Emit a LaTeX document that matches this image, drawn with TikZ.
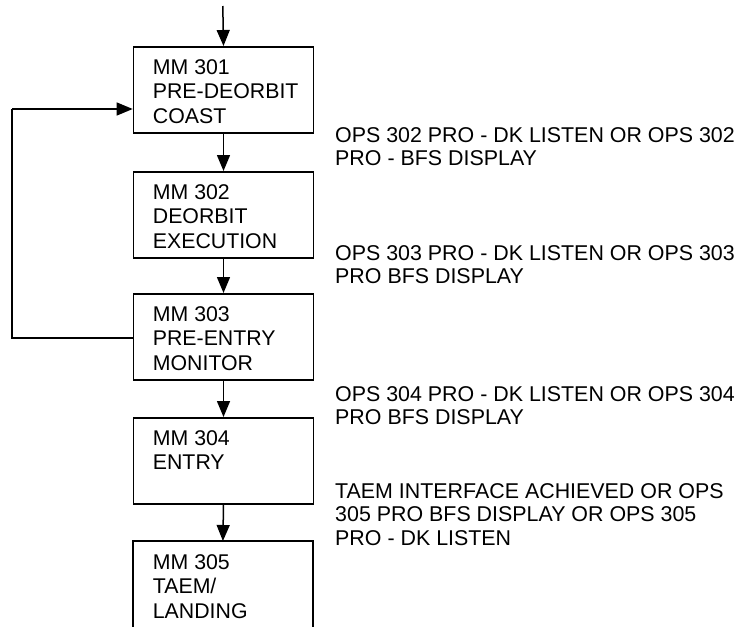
\documentclass[tikz,border=0pt]{standalone}
\usepackage{fontspec}
\setmainfont{Liberation Sans}
\usetikzlibrary{arrows.meta}
\begin{document}
\begin{tikzpicture}[x=1pt,y=-1pt,
  mmbox/.style={draw,line width=1.6pt,minimum width=180pt,minimum height=86pt,inner sep=0pt,anchor=north west},
  openbox/.style={minimum width=180pt,minimum height=90pt,inner sep=0pt,anchor=north west},
  boxtext/.style={anchor=base west,inner sep=0pt,align=left,font=\fontsize{21.3}{24.5}\selectfont},
  lbl/.style={anchor=base west,inner sep=0pt,align=left,font=\fontsize{21.4}{23.8}\selectfont},
  flow/.style={line width=1.5pt,-{Triangle[length=16pt,width=13pt]}},
  fb/.style={line width=1.3pt}]
\useasboundingbox (0,0) rectangle (738,626);
\node[mmbox] (b1) at (132.7,46) {};
\node[mmbox] (b2) at (132.7,171) {};
\node[mmbox] (b3) at (132.7,293) {};
\node[mmbox] (b4) at (132.7,417) {};
\node[openbox] (b5) at (132.7,541) {};
\draw[line width=1.6pt] (b5.south west) -- (b5.north west) -- (b5.north east) -- (b5.south east);
% base anchor = baseline of the last line
\node[boxtext] (t1) at (152.7,123.3) {MM 301\\PRE-DEORBIT\\COAST};
\node[boxtext] (t2) at (152.7,248) {MM 302\\DEORBIT\\EXECUTION};
\node[boxtext] (t3) at (152.7,370) {MM 303\\PRE-ENTRY\\MONITOR};
\node[boxtext] (t4) at (152.7,469.5) {MM 304\\ENTRY};
\node[boxtext] (t5) at (152.7,618) {MM 305\\TAEM/\\LANDING};
\node[lbl] (l1) at (335,165.8) {OPS 302 PRO - DK LISTEN OR OPS 302\\PRO - BFS DISPLAY};
\node[lbl] (l2) at (335,283.8) {OPS 303 PRO - DK LISTEN OR OPS 303\\PRO BFS DISPLAY};
\node[lbl] (l3) at (335,424.8) {OPS 304 PRO - DK LISTEN OR OPS 304\\PRO BFS DISPLAY};
\node[lbl] (l4) at (335,545.6) {TAEM INTERFACE ACHIEVED OR OPS\\305 PRO BFS DISPLAY OR OPS 305\\PRO - DK LISTEN};
\coordinate (top) at (222.8,6);
\draw[flow] (top) -- (b1.north);
\draw[flow] (b1.south) -- (b2.north);
\draw[flow] (b2.south) -- (b3.north);
\draw[flow] (b3.south) -- (b4.north);
\draw[flow] (b4.south) -- (b5.north);
\draw[fb] (b3.west |- 0,338) -- (12,338) -- (12,109);
\draw[flow,line width=1.3pt] (12,109) -- (b1.west |- 0,109);
\end{tikzpicture}
\end{document}
